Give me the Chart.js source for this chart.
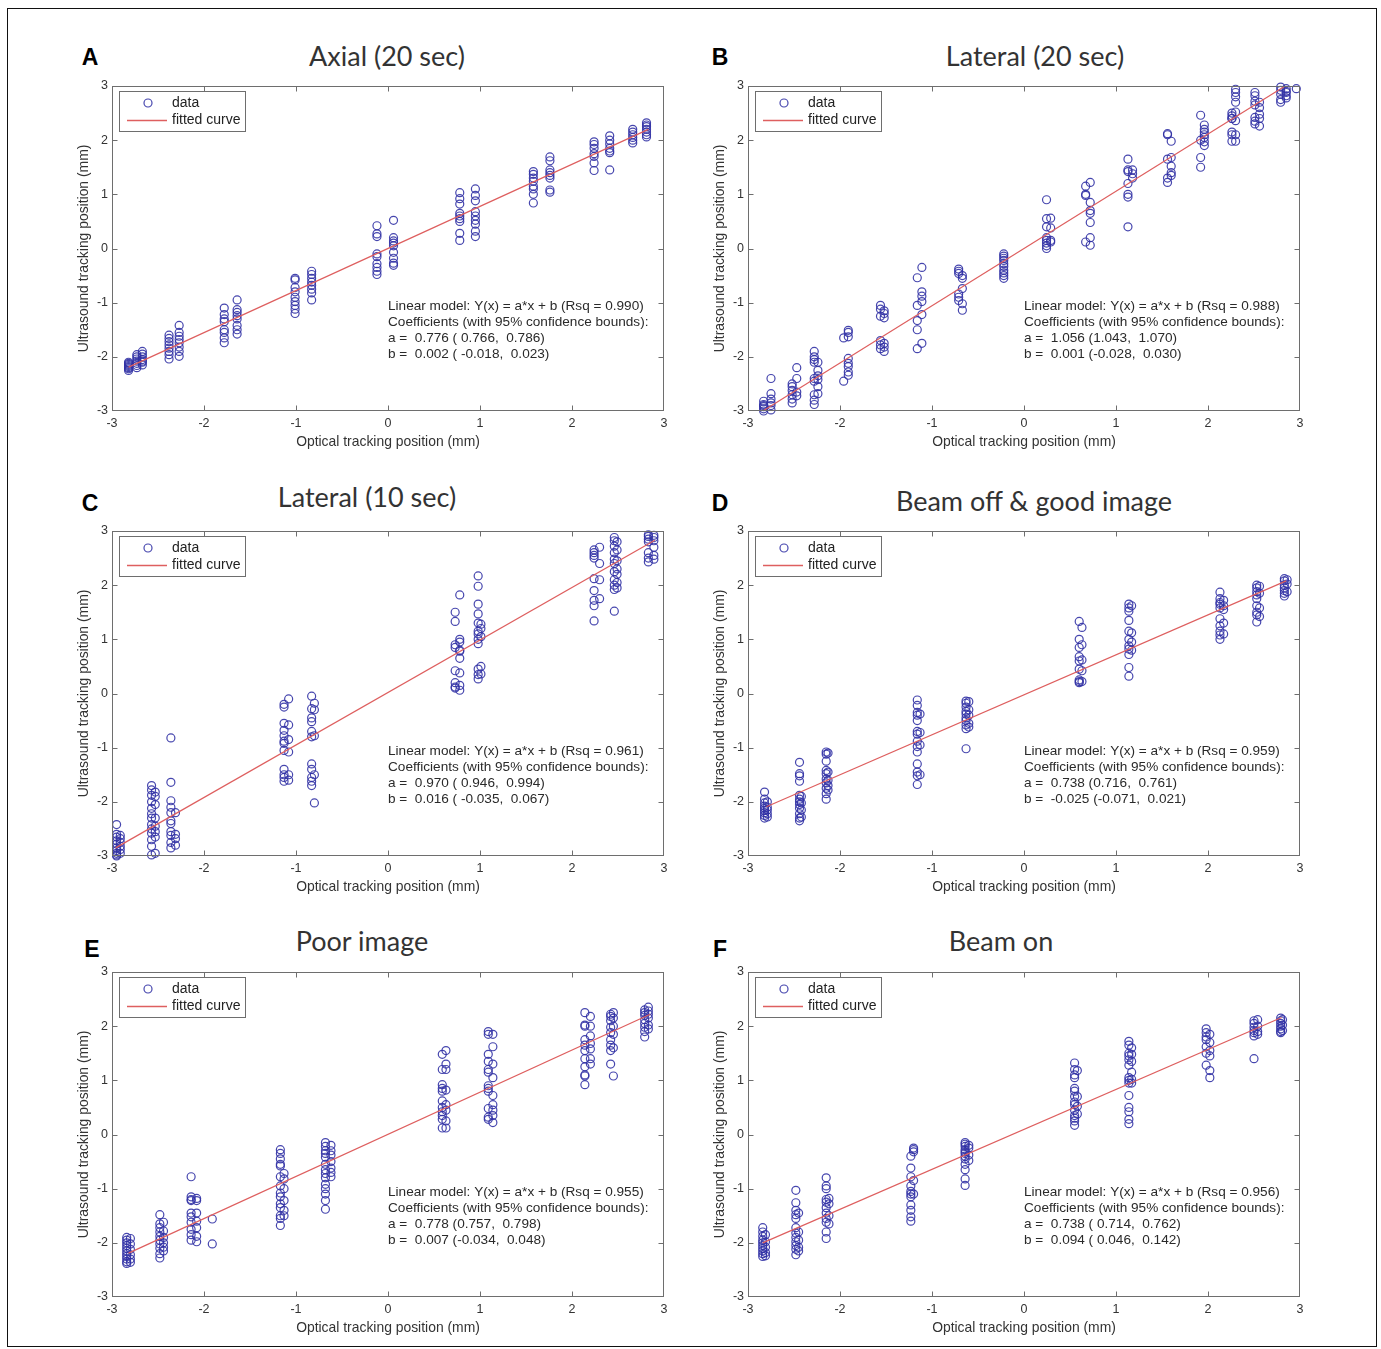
<!DOCTYPE html>
<html><head><meta charset="utf-8">
<script src="https://cdn.jsdelivr.net/npm/chart.js@4.4.1/dist/chart.umd.min.js"></script>
<style>
html,body{margin:0;padding:0;background:#fff;}
#page{position:relative;width:1381px;height:1349px;overflow:hidden;background:#fff;}
#frame{position:absolute;left:7px;top:8px;width:1370px;height:1339px;border:1px solid #111;box-sizing:border-box;}
canvas.cv{position:absolute;}
.title{position:absolute;transform:translate(-50%,-50%);font-family:Lato,'Open Sans',sans-serif;font-size:27px;color:#333;white-space:nowrap;}
.letter{position:absolute;transform:translate(-50%,-50%);font-family:'Liberation Sans',Arial,sans-serif;font-weight:bold;font-size:23px;color:#000;}
</style></head>
<body><div id="page"><div id="frame"></div></div>
<script>
// ---------------- DATA ----------------
// Panel A: Axial (20 sec)
const axialColX = [-2.82,-2.73,-2.67,-2.38,-2.27,-1.78,-1.64,-1.01,-0.83,-0.12,0.06,0.78,0.95,1.58,1.76,2.24,2.41,2.66,2.81];
const axialColY = [
 [-2.25,-2.22,-2.2,-2.18,-2.16,-2.14,-2.12,-2.1],
 [-2.2,-2.16,-2.12,-2.08,-2.04,-2.0,-1.96],
 [-2.15,-2.1,-2.05,-2.0,-1.95,-1.9,-2.08],
 [-1.6,-1.66,-1.72,-1.78,-1.84,-1.9,-1.96,-2.04],
 [-1.42,-1.55,-1.62,-1.68,-1.74,-1.82,-1.9,-1.99],
 [-1.1,-1.22,-1.3,-1.35,-1.5,-1.55,-1.65,-1.74],
 [-0.95,-1.13,-1.18,-1.24,-1.3,-1.42,-1.5,-1.58],
 [-0.55,-0.58,-0.72,-0.8,-0.9,-0.98,-1.05,-1.12,-1.2],
 [-0.42,-0.48,-0.55,-0.62,-0.68,-0.75,-0.82,-0.95],
 [0.42,0.27,0.22,-0.1,-0.15,-0.28,-0.35,-0.42,-0.48],
 [0.52,0.2,0.14,0.1,0.05,-0.07,-0.18,-0.27,-0.31],
 [1.03,0.92,0.82,0.65,0.6,0.55,0.5,0.28,0.15],
 [1.1,0.98,0.88,0.68,0.6,0.52,0.45,0.32,0.22],
 [1.42,1.37,1.3,1.24,1.15,1.1,1.0,0.84],
 [1.69,1.62,1.45,1.4,1.35,1.3,1.08,1.04],
 [1.97,1.92,1.85,1.75,1.7,1.58,1.44],
 [2.08,2.0,1.93,1.85,1.8,1.77,1.45],
 [2.2,2.15,2.1,2.05,2.0,1.95],
 [2.32,2.28,2.25,2.2,2.15,2.1,2.06]
];
const axialFitX = [-2.82, 2.83];
const axialFitY = [-2.19, 2.20];
const axialStats = ['Linear model: Y(x) = a*x + b (Rsq = 0.990)','Coefficients (with 95% confidence bounds):','a =  0.776 ( 0.766,  0.786)','b =  0.002 ( -0.018,  0.023)'];

// Panel B: Lateral (20 sec)
const lat20ColX = [-2.83,-2.75,-2.52,-2.47,-2.28,-2.24,-1.96,-1.91,-1.56,-1.52,-1.16,-1.11,-0.71,-0.67,-0.22,0.245,0.29,0.67,0.72,1.13,1.18,1.56,1.60,1.92,1.96,2.26,2.30,2.51,2.56,2.79,2.85,2.96];
const lat20ColY = [
 [-2.82,-2.88,-2.92,-2.96,-3.0,-2.9],
 [-2.4,-2.68,-2.78,-2.85,-2.9,-2.98],
 [-2.5,-2.55,-2.62,-2.7,-2.78,-2.85],
 [-2.2,-2.4,-2.65,-2.72],
 [-1.9,-2.0,-2.05,-2.1,-2.4,-2.45,-2.7,-2.8,-2.88],
 [-2.1,-2.25,-2.35,-2.42,-2.55,-2.68],
 [-1.65,-2.45],
 [-1.51,-1.55,-1.63,-2.03,-2.12,-2.18,-2.28,-2.34],
 [-1.05,-1.12,-1.25,-1.7,-1.78,-1.85],
 [-1.15,-1.2,-1.28,-1.75,-1.82,-1.9],
 [-0.54,-1.05,-1.33,-1.5,-1.85],
 [-0.35,-0.8,-0.88,-0.98,-1.22,-1.75],
 [-0.38,-0.42,-0.46,-0.84,-0.9,-0.96],
 [-0.5,-0.55,-0.74,-1.02,-1.14],
 [-0.1,-0.14,-0.18,-0.22,-0.28,-0.33,-0.4,-0.45,-0.5,-0.55],
 [0.9,0.55,0.4,0.2,0.15,0.1,0.05,0.0],
 [0.56,0.38,0.15,0.12],
 [1.15,1.0,0.98,0.12],
 [1.22,0.85,0.7,0.65,0.48,0.2,0.06],
 [1.65,1.45,1.42,1.2,1.0,0.95,0.4],
 [1.45,1.38,1.3],
 [2.12,2.1,1.65,1.3,1.22],
 [1.98,1.68,1.52,1.4,1.35],
 [2.46,2.0,1.68,1.5],
 [2.28,2.2,2.15,2.05,1.97,1.9,2.1],
 [2.5,2.45,2.4,2.15,2.1,1.98,2.4],
 [2.94,2.88,2.8,2.7,2.52,2.36,2.1,1.98],
 [2.88,2.82,2.72,2.65,2.42,2.35,2.3],
 [2.7,2.6,2.48,2.4,2.26],
 [2.98,2.92,2.85,2.75,2.7],
 [2.95,2.88,2.82,2.78,2.9],
 [2.95]
];
const lat20FitX = [-2.83, 2.83];
const lat20FitY = [-2.99, 2.99];
const lat20Stats = ['Linear model: Y(x) = a*x + b (Rsq = 0.988)','Coefficients (with 95% confidence bounds):','a =  1.056 (1.043,  1.070)','b =  0.001 (-0.028,  0.030)'];

// Panel C: Lateral (10 sec)
const lat10ColX = [-2.95,-2.91,-2.57,-2.53,-2.36,-2.31,-1.13,-1.08,-0.83,-0.80,0.73,0.78,0.98,1.01,2.24,2.30,2.46,2.49,2.83,2.89];
const lat10ColY = [
 [-2.42,-2.6,-2.65,-2.72,-2.78,-2.85,-2.9,-2.95,-2.98,-3.0],
 [-2.62,-2.68,-2.75,-2.82,-2.88,-2.95],
 [-1.7,-1.78,-1.88,-2.0,-2.12,-2.22,-2.3,-2.42,-2.5,-2.58,-2.7,-2.82,-2.98],
 [-1.82,-1.9,-2.05,-2.3,-2.45,-2.55,-2.65,-2.95],
 [-0.82,-1.64,-1.98,-2.1,-2.2,-2.35,-2.4,-2.55,-2.62,-2.75,-2.85],
 [-2.2,-2.6,-2.68,-2.8],
 [-0.2,-0.25,-0.55,-0.68,-0.78,-0.88,-0.92,-1.05,-1.4,-1.5,-1.55,-1.62],
 [-0.1,-0.58,-0.85,-1.08,-1.5,-1.6],
 [-0.05,-0.28,-0.45,-0.52,-0.7,-0.8,-1.3,-1.4,-1.55,-1.62,-1.7],
 [-0.18,-0.3,-0.78,-1.5,-2.02],
 [1.5,1.33,0.9,0.85,0.42,0.2,0.12,0.1],
 [1.82,1.0,0.95,0.8,0.78,0.65,0.38,0.15,0.06],
 [2.17,1.98,1.65,1.47,1.3,1.15,1.1,1.0,0.92,0.45,0.35,0.27],
 [1.28,1.2,1.05,0.5,0.36],
 [2.65,2.6,2.55,2.5,2.12,1.9,1.72,1.62,1.34],
 [2.7,2.4,2.1,1.75],
 [2.88,2.82,2.72,2.6,2.48,2.4,2.25,2.1,2.0,1.92,1.52],
 [2.8,2.65,2.45,2.3,2.2,2.05,1.95],
 [2.93,2.9,2.85,2.8,2.6,2.5,2.43],
 [2.92,2.88,2.82,2.7,2.55,2.48]
];
const lat10FitX = [-2.96, 2.90];
const lat10FitY = [-2.85, 2.83];
const lat10Stats = ['Linear model: Y(x) = a*x + b (Rsq = 0.961)','Coefficients (with 95% confidence bounds):','a =  0.970 ( 0.946,  0.994)','b =  0.016 ( -0.035,  0.067)'];

// Panel D: Beam off & good image
const bogColX = [-2.82,-2.79,-2.44,-2.42,-2.15,-2.13,-1.16,-1.13,-0.63,-0.60,0.60,0.63,1.14,1.17,2.13,2.17,2.53,2.56,2.83,2.86];
const bogColY = [
 [-1.82,-1.95,-2.02,-2.08,-2.12,-2.16,-2.2,-2.25,-2.3],
 [-2.0,-2.1,-2.15,-2.22,-2.28],
 [-1.27,-1.48,-1.52,-1.62,-1.88,-1.95,-2.0,-2.05,-2.12,-2.22,-2.3,-2.35],
 [-1.9,-2.02,-2.15,-2.28],
 [-1.08,-1.12,-1.25,-1.42,-1.48,-1.58,-1.65,-1.75,-1.85,-1.95],
 [-1.1,-1.45,-1.6,-1.7,-1.78],
 [-0.12,-0.22,-0.35,-0.4,-0.5,-0.7,-0.75,-0.88,-0.98,-1.08,-1.3,-1.45,-1.52,-1.68],
 [-0.38,-0.72,-0.95,-1.5],
 [-0.14,-0.18,-0.25,-0.33,-0.38,-0.45,-0.5,-0.58,-0.65,-1.02],
 [-0.15,-0.3,-0.4,-0.55,-0.62],
 [1.33,1.0,0.85,0.68,0.6,0.45,0.25,0.22,0.2],
 [1.22,0.9,0.62,0.42,0.22],
 [1.65,1.58,1.52,1.35,1.15,1.0,0.88,0.82,0.72,0.48,0.32],
 [1.62,1.12,0.95,0.8],
 [1.87,1.75,1.68,1.65,1.58,1.38,1.25,1.15,1.08,1.0],
 [1.72,1.62,1.55,1.3,1.1],
 [2.0,1.95,1.88,1.82,1.75,1.62,1.5,1.45,1.32],
 [1.98,1.85,1.58,1.42],
 [2.12,2.08,2.0,1.95,1.9,1.85,1.8],
 [2.1,2.02,1.88]
];
const bogFitX = [-2.80, 2.85];
const bogFitY = [-2.09, 2.08];
const bogStats = ['Linear model: Y(x) = a*x + b (Rsq = 0.959)','Coefficients (with 95% confidence bounds):','a =  0.738 (0.716,  0.761)','b =  -0.025 (-0.071,  0.021)'];

// Panel E: Poor image
const poorColX = [-2.84,-2.80,-2.48,-2.44,-2.14,-2.08,-1.91,-1.17,-1.13,-0.68,-0.62,0.59,0.63,1.09,1.14,2.14,2.20,2.42,2.45,2.79,2.83];
const poorColY = [
 [-1.9,-1.95,-2.0,-2.05,-2.1,-2.15,-2.2,-2.25,-2.3,-2.35,-2.38],
 [-1.92,-2.02,-2.12,-2.22,-2.3,-2.36],
 [-1.48,-1.65,-1.72,-1.8,-1.88,-1.95,-2.02,-2.1,-2.2,-2.28],
 [-1.62,-1.78,-1.9,-2.0,-2.08,-2.15],
 [-0.78,-1.15,-1.2,-1.22,-1.45,-1.52,-1.62,-1.75,-1.85,-1.95],
 [-1.18,-1.22,-1.45,-1.6,-1.72,-1.88,-1.98],
 [-1.56,-2.02],
 [-0.28,-0.35,-0.45,-0.55,-0.58,-0.78,-0.95,-1.08,-1.15,-1.28,-1.35,-1.5,-1.55,-1.68],
 [-0.72,-0.82,-1.0,-1.22,-1.4,-1.5],
 [-0.15,-0.22,-0.3,-0.35,-0.42,-0.55,-0.65,-0.72,-0.8,-0.92,-1.0,-1.1,-1.22,-1.38],
 [-0.2,-0.3,-0.38,-0.5,-0.62,-0.7,-0.78],
 [1.48,1.2,0.92,0.85,0.8,0.62,0.5,0.42,0.35,0.28,0.12],
 [1.55,1.3,1.2,0.82,0.55,0.45,0.25,0.12],
 [1.9,1.85,1.48,1.35,1.2,1.15,0.9,0.85,0.8,0.48,0.32,0.28],
 [1.85,1.62,1.3,1.05,0.72,0.55,0.45,0.35,0.22],
 [2.25,2.02,2.0,1.75,1.65,1.55,1.4,1.25,1.1,1.08,0.92],
 [2.18,2.0,1.82,1.68,1.58,1.4,1.3],
 [2.22,2.18,2.1,1.98,1.88,1.75,1.65,1.55,1.3],
 [2.25,2.15,2.0,1.85,1.6,1.08],
 [2.3,2.25,2.2,2.12,2.05,1.98,1.9,1.8],
 [2.35,2.28,2.22,2.15,2.02,1.95]
];
const poorFitX = [-2.82, 2.85];
const poorFitY = [-2.19, 2.22];
const poorStats = ['Linear model: Y(x) = a*x + b (Rsq = 0.955)','Coefficients (with 95% confidence bounds):','a =  0.778 (0.757,  0.798)','b =  0.007 (-0.034,  0.048)'];

// Panel F: Beam on
const onColX = [-2.84,-2.81,-2.48,-2.45,-2.15,-2.12,-1.23,-1.20,-0.64,-0.60,0.55,0.58,1.14,1.17,1.98,2.02,2.50,2.54,2.79,2.81];
const onColY = [
 [-1.72,-1.8,-1.88,-1.95,-2.0,-2.05,-2.1,-2.15,-2.2,-2.25],
 [-1.85,-1.98,-2.08,-2.18,-2.24],
 [-1.03,-1.26,-1.4,-1.48,-1.55,-1.72,-1.82,-1.9,-1.98,-2.05,-2.12,-2.22],
 [-1.45,-1.8,-1.95,-2.08,-2.15],
 [-0.8,-0.95,-1.0,-1.2,-1.25,-1.35,-1.45,-1.55,-1.62,-1.8,-1.92],
 [-1.18,-1.28,-1.5,-1.65],
 [-0.4,-0.62,-0.78,-0.95,-1.05,-1.1,-1.15,-1.3,-1.4,-1.52,-1.6],
 [-0.28,-0.25,-0.32,-0.85,-1.1],
 [-0.15,-0.18,-0.22,-0.28,-0.32,-0.35,-0.4,-0.45,-0.55,-0.65,-0.82,-0.94],
 [-0.2,-0.25,-0.38,-0.48],
 [1.32,1.2,1.1,1.05,0.85,0.8,0.7,0.6,0.55,0.45,0.35,0.3,0.25,0.17],
 [1.18,0.7,0.52,0.38],
 [1.72,1.65,1.5,1.45,1.38,1.28,1.05,1.0,0.95,0.72,0.5,0.42,0.28,0.2],
 [1.6,1.48,1.35,1.15,1.02,0.95],
 [1.95,1.88,1.8,1.75,1.62,1.5,1.28],
 [1.85,1.7,1.55,1.45,1.18,1.05],
 [2.1,2.05,1.98,1.92,1.88,1.82,1.4],
 [2.12,2.0,1.9,1.85],
 [2.15,2.1,2.05,2.0,1.95,1.9,1.88],
 [2.12,2.02,1.92]
];
const onFitX = [-2.84, 2.80];
const onFitY = [-2.00, 2.16];
const onStats = ['Linear model: Y(x) = a*x + b (Rsq = 0.956)','Coefficients (with 95% confidence bounds):','a =  0.738 ( 0.714,  0.762)','b =  0.094 ( 0.046,  0.142)'];

const tickValues = [-3,-2,-1,0,1,2,3];
const xAxisTitle = 'Optical tracking position (mm)';
const yAxisTitle = 'Ultrasound tracking position (mm)';
const legendLabels = ['data','fitted curve'];

// ---------------- LAYOUT / STYLE ----------------
const panels = [
 {letter:'A', title:'Axial (20 sec)',        left:112, top:86,  tx:387,  ty:55,  lx:90,  ly:57,  colX:axialColX, colY:axialColY, fitX:axialFitX, fitY:axialFitY, stats:axialStats},
 {letter:'B', title:'Lateral (20 sec)',      left:748, top:86,  tx:1035, ty:55,  lx:720, ly:57,  colX:lat20ColX, colY:lat20ColY, fitX:lat20FitX, fitY:lat20FitY, stats:lat20Stats},
 {letter:'C', title:'Lateral (10 sec)',      left:112, top:531, tx:367,  ty:496, lx:90,  ly:503, colX:lat10ColX, colY:lat10ColY, fitX:lat10FitX, fitY:lat10FitY, stats:lat10Stats},
 {letter:'D', title:'Beam off & good image', left:748, top:531, tx:1034, ty:500, lx:720, ly:503, colX:bogColX, colY:bogColY, fitX:bogFitX, fitY:bogFitY, stats:bogStats},
 {letter:'E', title:'Poor image',            left:112, top:972, tx:362,  ty:940, lx:92,  ly:949, colX:poorColX, colY:poorColY, fitX:poorFitX, fitY:poorFitY, stats:poorStats},
 {letter:'F', title:'Beam on',               left:748, top:972, tx:1001, ty:940, lx:720, ly:949, colX:onColX, colY:onColY, fitX:onFitX, fitY:onFitY, stats:onStats}
];

const PT = 'rgba(50,50,165,0.9)';
const FIT = 'rgb(222,95,95)';
const AX = '#6e6e6e';
const FONT = '"Liberation Sans", Arial, Helvetica, sans-serif';
const PLOT_W = 552, PLOT_H = 325, PAD_L = 50, PAD_T = 12, PAD_R = 14, PAD_B = 40;

const decor = {
  id: 'decor',
  afterDatasetsDraw(chart) {
    const {ctx, chartArea, scales} = chart;
    const {left, right, top, bottom} = chartArea;
    const st = chart.options.plugins.decor;
    ctx.save();
    ctx.strokeStyle = AX; ctx.lineWidth = 1;
    const L = Math.round(left) + 0.5, R = Math.round(right) - 0.5, T = Math.round(top) + 0.5, B = Math.round(bottom) - 0.5;
    ctx.strokeRect(L, T, R - L, B - T);
    // inward ticks on all four sides
    ctx.beginPath();
    scales.x.ticks.forEach(t => {
      if (t.value <= -3 || t.value >= 3) return;
      const px = Math.round(scales.x.getPixelForValue(t.value)) + 0.5;
      ctx.moveTo(px, B); ctx.lineTo(px, B - 5);
      ctx.moveTo(px, T); ctx.lineTo(px, T + 5);
    });
    scales.y.ticks.forEach(t => {
      if (t.value <= -3 || t.value >= 3) return;
      const py = Math.round(scales.y.getPixelForValue(t.value)) + 0.5;
      ctx.moveTo(L, py); ctx.lineTo(L + 5, py);
      ctx.moveTo(R, py); ctx.lineTo(R - 5, py);
    });
    ctx.stroke();
    // legend box
    const bx = L + 7, by = T + 5, bw = 126, bh = 40;
    ctx.fillStyle = '#fff';
    ctx.fillRect(bx, by, bw, bh);
    ctx.strokeStyle = AX;
    ctx.strokeRect(bx, by, bw, bh);
    ctx.strokeStyle = PT; ctx.lineWidth = 1.2;
    ctx.beginPath(); ctx.arc(left + 36, top + 17, 4, 0, Math.PI * 2); ctx.stroke();
    ctx.strokeStyle = FIT; ctx.lineWidth = 1.3;
    ctx.beginPath(); ctx.moveTo(left + 15, top + 34.5); ctx.lineTo(left + 55, top + 34.5); ctx.stroke();
    ctx.fillStyle = '#222';
    ctx.font = '14px ' + FONT;
    ctx.textBaseline = 'middle'; ctx.textAlign = 'left';
    ctx.fillText(legendLabels[0], left + 60, top + 17);
    ctx.fillText(legendLabels[1], left + 60, top + 34);
    // annotation
    ctx.font = '13.6px ' + FONT;
    ctx.fillStyle = '#2a2a2a';
    st.lines.forEach((s, i) => ctx.fillText(s, left + 276, top + 220 + i * 16));
    ctx.restore();
  }
};

const page = document.getElementById('page');
panels.forEach(p => {
  const t = document.createElement('div'); t.className = 'title'; t.textContent = p.title;
  t.style.left = p.tx + 'px'; t.style.top = p.ty + 'px'; page.appendChild(t);
  const l = document.createElement('div'); l.className = 'letter'; l.textContent = p.letter;
  l.style.left = p.lx + 'px'; l.style.top = p.ly + 'px'; page.appendChild(l);

  const W = PAD_L + PLOT_W + PAD_R, H = PAD_T + PLOT_H + PAD_B;
  const cv = document.createElement('canvas'); cv.className = 'cv';
  cv.width = W; cv.height = H; cv.style.width = W + 'px'; cv.style.height = H + 'px';
  cv.style.left = (p.left - PAD_L) + 'px'; cv.style.top = (p.top - PAD_T) + 'px';
  page.appendChild(cv);

  const pts = [];
  p.colX.forEach((x, i) => p.colY[i].forEach(y => pts.push({x, y})));
  const fit = p.fitX.map((x, i) => ({x, y: p.fitY[i]}));

  const tickFont = {family: FONT, size: 12.5};
  const titleFont = {family: FONT, size: 13.9};
  new Chart(cv, {
    type: 'scatter',
    data: {datasets: [
      {label: legendLabels[0], data: pts, pointStyle: 'circle', pointRadius: 4, pointBorderWidth: 1.2,
       borderColor: PT, backgroundColor: 'rgba(0,0,0,0)', clip: false, order: 2},
      {label: legendLabels[1], data: fit, showLine: true, borderColor: FIT, borderWidth: 1.2,
       pointRadius: 0, fill: false, order: 1}
    ]},
    options: {
      responsive: false, animation: false, devicePixelRatio: 1, events: [],
      layout: {padding: {left: 0, top: PAD_T, right: PAD_R, bottom: 0}},
      plugins: {legend: {display: false}, tooltip: {enabled: false}, title: {display: false},
                decor: {lines: p.stats}},
      scales: {
        x: {type: 'linear', min: -3, max: 3,
            afterBuildTicks: s => { s.ticks = tickValues.map(v => ({value: v})); },
            ticks: {padding: 5, color: '#333', font: tickFont, maxRotation: 0, autoSkip: false, callback: v => String(v)},
            grid: {display: false, drawTicks: false}, border: {display: false},
            title: {display: true, text: xAxisTitle, color: '#333', font: titleFont, padding: {top: 0, bottom: 0}},
            afterFit: s => { s.height = PAD_B; }},
        y: {type: 'linear', min: -3, max: 3,
            afterBuildTicks: s => { s.ticks = tickValues.map(v => ({value: v})); },
            ticks: {padding: 4, color: '#333', font: tickFont, autoSkip: false, callback: v => String(v)},
            grid: {display: false, drawTicks: false}, border: {display: false},
            title: {display: true, text: yAxisTitle, color: '#333', font: titleFont, padding: {top: 14, bottom: 0}},
            afterFit: s => { s.width = PAD_L; }}
      }
    },
    plugins: [decor]
  });
});
</script>
</body></html>
